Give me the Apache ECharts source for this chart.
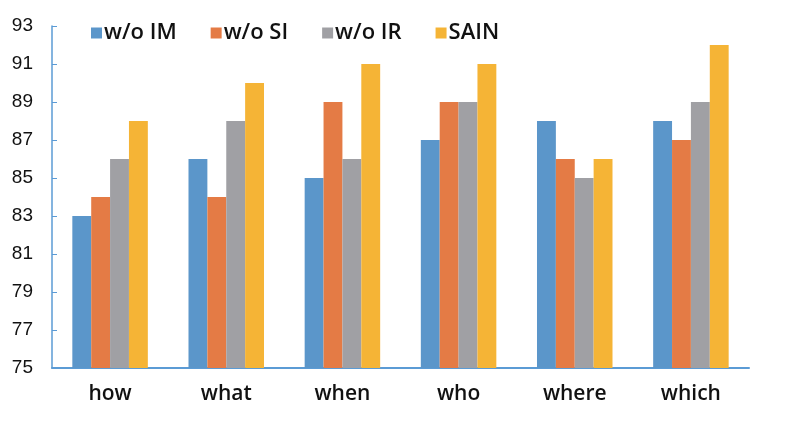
<!DOCTYPE html>
<html><head><meta charset="utf-8">
<script src="https://cdn.jsdelivr.net/npm/echarts@6/dist/echarts.min.js"></script>
<style>html,body{margin:0;padding:0;background:#fff}#c{width:789px;height:423px}</style>
</head><body><div id="c"></div>
<script>
const categories = ['how','what','when','who','where','which'];
const seriesNames = ['w/o IM','w/o SI','w/o IR','SAIN'];
const woIM = [83,86,85,87,88,88];
const woSI = [84,84,89,89,86,87];
const woIR = [86,88,86,89,85,89];
const sain = [88,90,91,91,86,92];
const colors = ['#5B96CA','#E47B45','#A0A0A4','#F5B436'];
const font = '"Open Sans", "Noto Sans", sans-serif';
const chart = echarts.init(document.getElementById('c'));
const data = [woIM, woSI, woIR, sain];
chart.setOption({
  animation:false,
  textStyle:{fontFamily:font},
  color:colors,
  legend:{top:17,left:86,itemWidth:11,itemHeight:11,itemGap:34,icon:'rect',
    textStyle:{fontSize:22,fontWeight:600,color:'#111',fontFamily:font,padding:[0,0,0,-3]},
    data:seriesNames},
  grid:{left:52,right:40,top:26,bottom:55,containLabel:false},
  xAxis:{type:'category',data:categories,
    axisLine:{lineStyle:{color:'#5B9BD5',width:2}},
    axisTick:{show:false},
    axisLabel:{fontSize:21,fontWeight:600,color:'#111',margin:16,fontFamily:font}},
  yAxis:{type:'value',min:75,max:93,interval:2,
    axisLine:{show:true,lineStyle:{color:'#5B9BD5',width:1.5}},
    axisTick:{show:true,inside:true,length:5,lineStyle:{color:'#5B9BD5'}},
    splitLine:{show:false},
    axisLabel:{fontSize:19,fontWeight:500,color:'#111',margin:19,fontFamily:'"Liberation Sans", Arial, sans-serif'}},
  series:seriesNames.map((n,i)=>({name:n,type:'bar',data:data[i],barGap:'0%',barCategoryGap:'35%'}))
});
</script></body></html>
